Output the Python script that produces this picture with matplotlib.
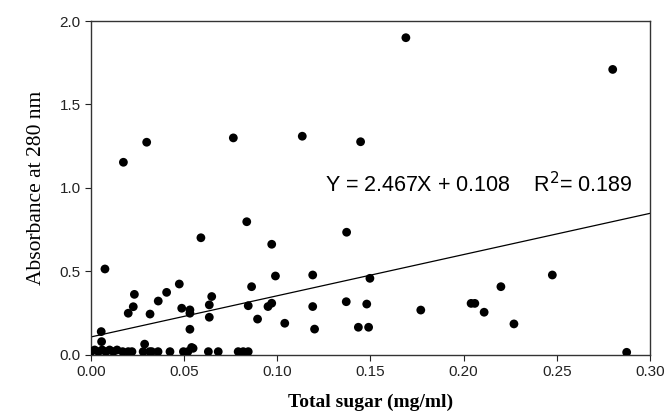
import matplotlib
matplotlib.use("Agg")
import matplotlib.pyplot as plt
import numpy as np

# total sugar (mg/ml) vs absorbance at 280 nm
sugar = [0.169, 0.280, 0.1447, 0.0174, 0.0299, 0.0764, 0.1134,
         0.0075, 0.059, 0.0836, 0.097, 0.099, 0.119, 0.0862, 0.0474,
         0.0406, 0.0361, 0.0233, 0.0227, 0.020, 0.0317, 0.0487, 0.0531,
         0.0531, 0.0648, 0.0635, 0.0635, 0.0531, 0.0844, 0.0894, 0.095,
         0.097, 0.104, 0.119, 0.120, 0.0057, 0.0055, 0.0288, 0.054,
         0.1372, 0.1497, 0.137, 0.148, 0.1435, 0.149, 0.177, 0.204,
         0.206, 0.211, 0.220, 0.227, 0.2476, 0.2875,
         0.000, 0.002, 0.004, 0.006, 0.008, 0.010, 0.012, 0.014, 0.017,
         0.020, 0.022, 0.028, 0.0315, 0.0326, 0.036, 0.0424, 0.0496,
         0.052, 0.0548, 0.063, 0.0683, 0.079, 0.0817, 0.0844]
absorb = [1.90, 1.71, 1.277, 1.154, 1.274, 1.30, 1.31,
          0.515, 0.702, 0.798, 0.663, 0.473, 0.479, 0.409, 0.425,
          0.375, 0.323, 0.363, 0.289, 0.25, 0.245, 0.28, 0.27,
          0.25, 0.35, 0.30, 0.226, 0.154, 0.295, 0.215, 0.29,
          0.31, 0.19, 0.29, 0.155, 0.08, 0.14, 0.065, 0.045,
          0.735, 0.459, 0.319, 0.305, 0.166, 0.166, 0.269, 0.309,
          0.309, 0.256, 0.409, 0.186, 0.479, 0.016,
          0.02, 0.03, 0.02, 0.03, 0.02, 0.03, 0.02, 0.03, 0.02,
          0.02, 0.02, 0.02, 0.02, 0.02, 0.02, 0.02, 0.02,
          0.02, 0.04, 0.02, 0.02, 0.02, 0.02, 0.02]

slope = 2.467
intercept = 0.108
fit_x = [0.0, 0.30]

fig = plt.figure(figsize=(6.65, 4.11), dpi=100)
ax = fig.add_axes([0.1368, 0.1363, 0.8406, 0.8126])

ax.scatter(sugar, absorb, s=40, c="black", edgecolors="none", zorder=3)
ax.plot(fit_x, [slope * v + intercept for v in fit_x], color="black", lw=0.9)

ax.text(0.1256, 1.02, "Y = 2.467X + 0.108    R$^2$= 0.189",
        fontsize=15.5, family="Liberation Sans", va="center")

ax.set_xlim(0, 0.30)
ax.set_ylim(0, 2.0)
ax.set_xticks(np.arange(0, 0.301, 0.05))
ax.set_yticks(np.arange(0, 2.01, 0.5))
ax.set_xticklabels(["%.2f" % v for v in np.arange(0, 0.301, 0.05)])
ax.set_yticklabels(["%.1f" % v for v in np.arange(0, 2.01, 0.5)])
ax.tick_params(direction="out", length=4, width=0.8, labelsize=11,
               colors="#222222")
for lab in ax.get_xticklabels() + ax.get_yticklabels():
    lab.set_family("Liberation Sans")
for sp in ax.spines.values():
    sp.set_linewidth(1.0)
    sp.set_color("#333333")

ax.set_xlabel("Total sugar (mg/ml)", family="Liberation Serif",
              fontweight="bold", fontsize=14, labelpad=10)
ax.set_ylabel("Absorbance at 280 nm", family="Liberation Serif",
              fontsize=15.5, labelpad=10)

fig.savefig("out.png", dpi=100)
